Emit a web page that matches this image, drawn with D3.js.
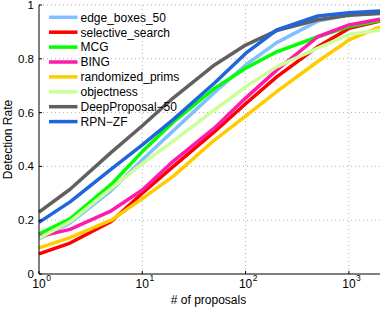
<!DOCTYPE html>
<html>
<head>
<meta charset="utf-8">
<script src="https://cdn.jsdelivr.net/npm/d3@7"></script>
<style>
    body { margin: 0; background: #fff; }
    text { font-family: "Liberation Sans", Arial, sans-serif; fill: #000; }
</style>
</head>
<body>
<svg id="chart" width="382" height="309"></svg>
<script>
// proposal counts used for every curve
const proposals = [1, 2, 5, 10, 20, 50, 100, 200, 500, 1000, 2000];

const edgeBoxes50 = [0.13, 0.19, 0.31, 0.425, 0.533, 0.675, 0.777, 0.86, 0.94, 0.963, 0.97];
const selectiveSearch = [0.075, 0.115, 0.195, 0.30, 0.40, 0.529, 0.633, 0.733, 0.845, 0.913, 0.94];
const mcg = [0.148, 0.205, 0.333, 0.455, 0.565, 0.69, 0.765, 0.826, 0.882, 0.92, 0.942];
const bing = [0.139, 0.166, 0.235, 0.312, 0.42, 0.543, 0.654, 0.758, 0.882, 0.926, 0.947];
const randomizedPrims = [0.097, 0.135, 0.2, 0.28, 0.364, 0.498, 0.587, 0.678, 0.79, 0.87, 0.919];
const objectness = [0.133, 0.195, 0.318, 0.41, 0.495, 0.61, 0.696, 0.77, 0.84, 0.89, 0.907];
const deepProposal50 = [0.23, 0.315, 0.452, 0.551, 0.655, 0.777, 0.851, 0.905, 0.945, 0.962, 0.968];
const rpnZF = [0.192, 0.268, 0.39, 0.48, 0.575, 0.71, 0.82, 0.907, 0.959, 0.971, 0.978];

const methodNames = ["edge_boxes_50", "selective_search", "MCG", "BING", "randomized_prims",
    "objectness", "DeepProposal\u221250", "RPN\u2212ZF"];
const methodColors = ["#80c0ff", "#ff0000", "#00ff00", "#ff1aac", "#ffcc00", "#ccff99", "#606060", "#1f66dd"];
const methodValues = [edgeBoxes50, selectiveSearch, mcg, bing, randomizedPrims, objectness, deepProposal50, rpnZF];

const yTicks = [0, 0.2, 0.4, 0.6, 0.8, 1];
const yTickLabels = ["0", "0.2", "0.4", "0.6", "0.8", "1"];
const xTicks = [1, 10, 100, 1000];
const xTickExponents = ["0", "1", "2", "3"];

const svg = d3.select("#chart");
const plotLeft = 39, plotRight = 380, plotTop = 5, plotBottom = 274;

const x = d3.scaleLog().domain([1, 2000]).range([plotLeft, plotRight]);
const y = d3.scaleLinear().domain([0, 1]).range([plotBottom, plotTop]);

// dotted grid
svg.append("g").selectAll("line")
    .data(xTicks.slice(1))
    .enter().append("line")
    .attr("x1", d => x(d)).attr("x2", d => x(d))
    .attr("y1", plotTop).attr("y2", plotBottom)
    .attr("stroke", "#b0b0b0").attr("stroke-width", 1)
    .attr("stroke-dasharray", "1,3");

svg.append("g").selectAll("line")
    .data(yTicks.slice(1))
    .enter().append("line")
    .attr("x1", plotLeft).attr("x2", plotRight)
    .attr("y1", d => y(d)).attr("y2", d => y(d))
    .attr("stroke", "#b0b0b0").attr("stroke-width", 1)
    .attr("stroke-dasharray", "1,3");

// curves
const line = d3.line()
    .x((d, i) => x(proposals[i]))
    .y(d => y(d));

svg.append("g").selectAll("path")
    .data(methodValues)
    .enter().append("path")
    .attr("d", d => line(d))
    .attr("fill", "none")
    .attr("stroke", (d, i) => methodColors[i])
    .attr("stroke-width", 3.5)
    .attr("stroke-linejoin", "round");

// axes
svg.append("line")
    .attr("x1", plotLeft).attr("x2", plotLeft).attr("y1", plotTop).attr("y2", plotBottom)
    .attr("stroke", "#000").attr("stroke-width", 1);
svg.append("line")
    .attr("x1", plotLeft).attr("x2", plotRight).attr("y1", plotBottom).attr("y2", plotBottom)
    .attr("stroke", "#000").attr("stroke-width", 1);

// ticks (inward)
svg.append("g").selectAll("line")
    .data(xTicks)
    .enter().append("line")
    .attr("x1", d => x(d)).attr("x2", d => x(d))
    .attr("y1", plotBottom).attr("y2", plotBottom - 3)
    .attr("stroke", "#000");
svg.append("g").selectAll("line")
    .data(yTicks)
    .enter().append("line")
    .attr("x1", plotLeft).attr("x2", plotLeft + 3)
    .attr("y1", d => y(d)).attr("y2", d => y(d))
    .attr("stroke", "#000");

// y tick labels
svg.append("g").selectAll("text")
    .data(yTicks)
    .enter().append("text")
    .attr("x", plotLeft - 5)
    .attr("y", d => y(d) + 4)
    .attr("text-anchor", "end")
    .attr("font-size", 11.5)
    .text((d, i) => yTickLabels[i]);

// x tick labels: 10 with superscript exponent
const xl = svg.append("g").selectAll("g")
    .data(xTicks)
    .enter().append("g");
xl.append("text")
    .attr("x", d => x(d))
    .attr("y", 288)
    .attr("text-anchor", "middle")
    .attr("font-size", 12)
    .text("10");
xl.append("text")
    .attr("x", d => x(d) + 7.2)
    .attr("y", 281)
    .attr("font-size", 8.5)
    .text((d, i) => xTickExponents[i]);

// axis titles
svg.append("text")
    .attr("x", 208.5).attr("y", 303.5)
    .attr("text-anchor", "middle")
    .attr("font-size", 12)
    .text("# of proposals");
svg.append("text")
    .attr("transform", "translate(12," + ((plotTop + plotBottom) / 2) + ") rotate(-90)")
    .attr("text-anchor", "middle")
    .attr("font-size", 12)
    .text("Detection Rate");

// legend
const legend = svg.append("g").selectAll("g")
    .data(methodNames)
    .enter().append("g")
    .attr("transform", (d, i) => "translate(0," + (17.3 + i * 14.9) + ")");
legend.append("line")
    .attr("x1", 49).attr("x2", 77.5)
    .attr("y1", 0).attr("y2", 0)
    .attr("stroke", (d, i) => methodColors[i])
    .attr("stroke-width", 3.5);
legend.append("text")
    .attr("x", 80.5).attr("y", 4.3)
    .attr("font-size", 12)
    .text(d => d);
</script>
</body>
</html>
